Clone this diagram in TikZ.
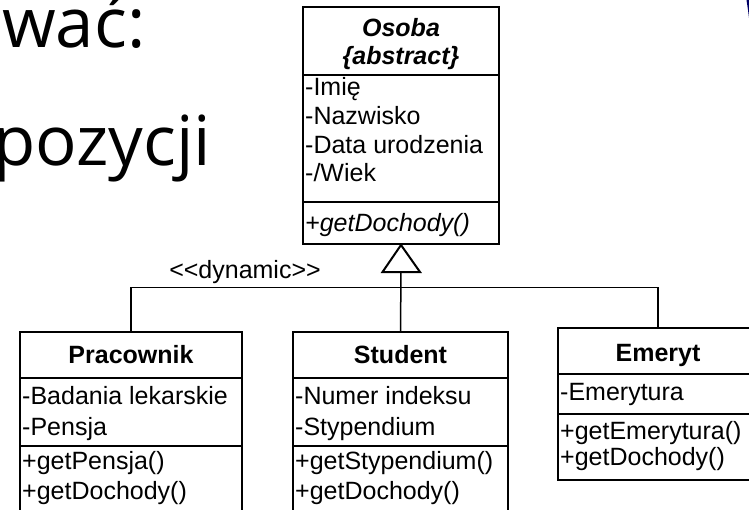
\documentclass[tikz,border=0pt]{standalone}
\usepackage{fontspec}
\setmainfont{Liberation Sans}
\newfontfamily\slidefont{Open Sans}
\begin{document}
\begin{tikzpicture}[x=1pt,y=-1pt,
  classbox/.style={draw=black, line width=2pt, fill=white, inner sep=0pt},
  divider/.style={draw=black, line width=2pt},
  conn/.style={draw=black, line width=1.5pt},
  member/.style={anchor=base west, inner sep=0pt, font=\fontsize{25}{29}\selectfont},
  title/.style={anchor=base, inner sep=0pt, font=\fontsize{25}{29}\selectfont\bfseries},
  big/.style={anchor=base west, inner sep=0pt, font=\fontsize{69}{80}\slidefont}]
\useasboundingbox (0,0) rectangle (749,509);
\clip (0,0) rectangle (749,509);

% slide text
\node[big] (t1) at (2,47) {wać:};
\node[big] (t2) at (-7,165) {pozycji};

% corner decoration
\fill[blue!40!black] (746.5,0) -- (749,0) -- (749,18) -- (748,10) -- cycle;

% Osoba
\node[classbox, minimum width=196, minimum height=237] (osoba) at (401,125.5) {};
\draw[divider] (osoba.west |- 0,75) -- (osoba.east |- 0,75);
\draw[divider] (osoba.west |- 0,202) -- (osoba.east |- 0,202);
\node[title, font=\fontsize{25}{29}\selectfont\bfseries\itshape] (osobaT) at (401,36) {Osoba};
\node[title, font=\fontsize{25}{29}\selectfont\bfseries\itshape] (osobaA) at (401,64) {\{abstract\}};
\node[member] (o1) at (305,95) {-Imię};
\node[member] (o2) at (305,124) {-Nazwisko};
\node[member] (o3) at (305,153) {-Data urodzenia};
\node[member] (o4) at (305,181) {-/Wiek};
\node[member, font=\fontsize{25}{29}\selectfont\itshape] (o5) at (305,231) {+getDochody()};

% Pracownik
\node[classbox, minimum width=222, minimum height=200] (prac) at (131,432) {};
\draw[divider] (prac.west |- 0,378) -- (prac.east |- 0,378);
\draw[divider] (prac.west |- 0,446) -- (prac.east |- 0,446);
\node[title] (pracT) at (131,363) {Pracownik};
\node[member] (p1) at (22,404) {-Badania lekarskie};
\node[member] (p2) at (22,435) {-Pensja};
\node[member] (p3) at (22,469) {+getPensja()};
\node[member] (p4) at (22,499) {+getDochody()};

% Student
\node[classbox, minimum width=215, minimum height=200] (stud) at (400.5,432) {};
\draw[divider] (stud.west |- 0,378) -- (stud.east |- 0,378);
\draw[divider] (stud.west |- 0,446) -- (stud.east |- 0,446);
\node[title] (studT) at (400.5,363) {Student};
\node[member] (s1) at (295,404) {-Numer indeksu};
\node[member] (s2) at (295,435) {-Stypendium};
\node[member] (s3) at (295,469) {+getStypendium()};
\node[member] (s4) at (295,499) {+getDochody()};

% Emeryt
\node[classbox, minimum width=200, minimum height=152] (emer) at (658,404) {};
\draw[divider] (emer.west |- 0,374) -- (emer.east |- 0,374);
\draw[divider] (emer.west |- 0,414) -- (emer.east |- 0,414);
\node[title] (emerT) at (658,361) {Emeryt};
\node[member] (e1) at (560,400) {-Emerytura};
\node[member] (e2) at (560,439) {+getEmerytura()};
\node[member] (e3) at (560,465) {+getDochody()};

% generalization
\coordinate (apex) at (osoba.south);
\coordinate (tb) at (401,272);
\coordinate (bar) at (401,287.5);
\draw[conn] (tb) -- (stud.north);
\draw[conn] (prac.north) -- (prac.north |- bar) -- (emer.north |- bar) -- (emer.north);
\draw[line width=2pt, fill=white, line join=miter] (apex) -- (382.5,272) -- (420,272) -- cycle;
\node[anchor=base, inner sep=0pt, font=\fontsize{25}{29}\selectfont] (dyn) at (245,278) {{<}{<}dynamic{>}{>}};
\end{tikzpicture}
\end{document}
